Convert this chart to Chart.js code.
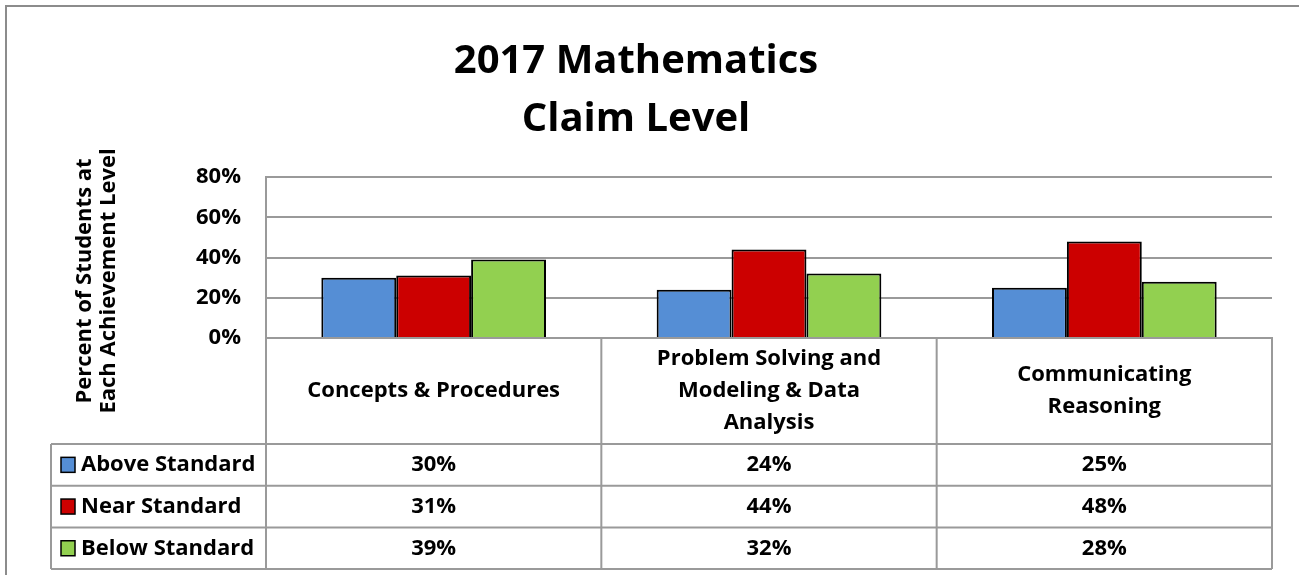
<!DOCTYPE html>
<html>
<head>
<meta charset="utf-8">
<script src="https://cdn.jsdelivr.net/npm/chart.js@4/dist/chart.umd.min.js"></script>
<style>
  html, body { margin: 0; padding: 0; background: #fff; }
  #wrap { width: 1299px; height: 575px; }
</style>
</head>
<body>
<div id="wrap"><canvas id="claims" width="1299" height="575"></canvas></div>
<script>
// chart values
const categories = ['Concepts & Procedures', 'Problem Solving and Modeling & Data Analysis', 'Communicating Reasoning'];
const categoryLines = [
  ['Concepts & Procedures'],
  ['Problem Solving and', 'Modeling & Data', 'Analysis'],
  ['Communicating', 'Reasoning']
];
const seriesNames = ['Above Standard', 'Near Standard', 'Below Standard'];
const aboveStandard = [30, 24, 25];
const nearStandard = [31, 44, 48];
const belowStandard = [39, 32, 28];
const yTicks = [0, 20, 40, 60, 80];

const seriesColors = ['#558ed5', '#cc0000', '#92d050'];
const FONT = '"Open Sans", sans-serif';
const GRID = '#9a9a9a';

// draws frame, y-axis title and the data table under the plot
const tablePlugin = {
  id: 'dataTable',
  beforeDraw(chart) {
    const ctx = chart.ctx;
    ctx.save();
    ctx.fillStyle = '#fff';
    ctx.fillRect(0, 0, chart.width, chart.height);
    ctx.strokeStyle = '#8c8c8c';
    ctx.lineWidth = 2;
    ctx.beginPath();
    ctx.moveTo(6, chart.height);
    ctx.lineTo(6, 6);
    ctx.lineTo(chart.width, 6);
    ctx.stroke();
    ctx.restore();
  },
  afterDraw(chart) {
    const ctx = chart.ctx;
    const area = chart.chartArea;
    const x = chart.scales.x;
    const n = categories.length;
    const colW = (area.right - area.left) / n;
    const headerBottom = area.bottom + 106;
    const rowH = 41.7;
    const tableLeft = 51;
    const rows = [aboveStandard, nearStandard, belowStandard];
    const tableBottom = headerBottom + rowH * rows.length;

    ctx.save();
    // y axis title
    ctx.fillStyle = '#000';
    ctx.font = 'bold 22px ' + FONT;
    ctx.textAlign = 'center';
    ctx.textBaseline = 'middle';
    ctx.translate(0, 281);
    ctx.rotate(-Math.PI / 2);
    ctx.fillText('Percent of Students at', 0, 85);
    ctx.fillText('Each Achievement Level', 0, 109);
    ctx.restore();

    ctx.save();
    ctx.strokeStyle = GRID;
    ctx.lineWidth = 2;
    ctx.beginPath();
    for (let i = 0; i <= n; i++) {
      const cx = area.left + i * colW;
      ctx.moveTo(cx, area.bottom);
      ctx.lineTo(cx, tableBottom);
    }
    ctx.moveTo(tableLeft, headerBottom);
    ctx.lineTo(tableLeft, tableBottom);
    for (let r = 0; r <= rows.length; r++) {
      const ry = headerBottom + r * rowH;
      ctx.moveTo(tableLeft, ry);
      ctx.lineTo(area.right, ry);
    }
    ctx.stroke();

    ctx.fillStyle = '#000';
    ctx.font = 'bold 22px ' + FONT;
    ctx.textAlign = 'center';
    ctx.textBaseline = 'middle';
    const headMid = (area.bottom + headerBottom) / 2;
    categoryLines.forEach((lines, i) => {
      const cx = x.getPixelForValue(i);
      const lh = 32;
      const y0 = headMid - (lines.length - 1) * lh / 2;
      lines.forEach((t, k) => ctx.fillText(t, cx, y0 + k * lh));
    });

    rows.forEach((vals, r) => {
      const ry = headerBottom + r * rowH + rowH / 2;
      ctx.fillStyle = seriesColors[r];
      ctx.fillRect(61, ry - 7.5, 14, 15);
      ctx.strokeStyle = '#000';
      ctx.lineWidth = 1.5;
      ctx.strokeRect(61, ry - 7.5, 14, 15);
      ctx.fillStyle = '#000';
      ctx.textAlign = 'left';
      ctx.fillText(seriesNames[r], 81, ry);
      ctx.textAlign = 'center';
      vals.forEach((v, i) => ctx.fillText(v + '%', x.getPixelForValue(i), ry));
    });
    ctx.restore();
  }
};

const claimChart = new Chart(document.getElementById('claims').getContext('2d'), {
  type: 'bar',
  data: {
    labels: categories,
    datasets: seriesNames.map((name, i) => ({
      label: name,
      data: [aboveStandard, nearStandard, belowStandard][i],
      backgroundColor: seriesColors[i],
      borderColor: '#000',
      borderWidth: 2,
      barPercentage: 1,
      categoryPercentage: 0.67,
    })),
  },
  options: {
    responsive: false,
    animation: false,
    layout: { padding: { left: 0, right: 27, top: 0, bottom: 0 } },
    plugins: {
      legend: { display: false },
      tooltip: { enabled: false },
      title: {
        display: true,
        text: ['2017 Mathematics', 'Claim Level'],
        color: '#000',
        font: { family: FONT, size: 40, weight: 'bold', lineHeight: 58 / 40 },
        padding: { top: 33, bottom: 28 },
      },
    },
    scales: {
      x: {
        grid: { display: false },
        border: { display: true, color: GRID, width: 2 },
        ticks: { display: false },
        afterFit: (scale) => { scale.height = 237; },
      },
      y: {
        min: 0,
        max: 80,
        afterBuildTicks: (scale) => { scale.ticks = yTicks.map(v => ({ value: v })); },
        grid: { color: GRID, lineWidth: 2, drawTicks: false },
        border: { display: true, color: GRID, width: 2 },
        ticks: {
          padding: 25,
          color: '#000',
          font: { family: FONT, size: 22, weight: 'bold' },
          callback: (value) => value + '%',
        },
        afterFit: (scale) => { scale.width = 266; },
      },
    },
  },
  plugins: [tablePlugin],
});
</script>
</body>
</html>
